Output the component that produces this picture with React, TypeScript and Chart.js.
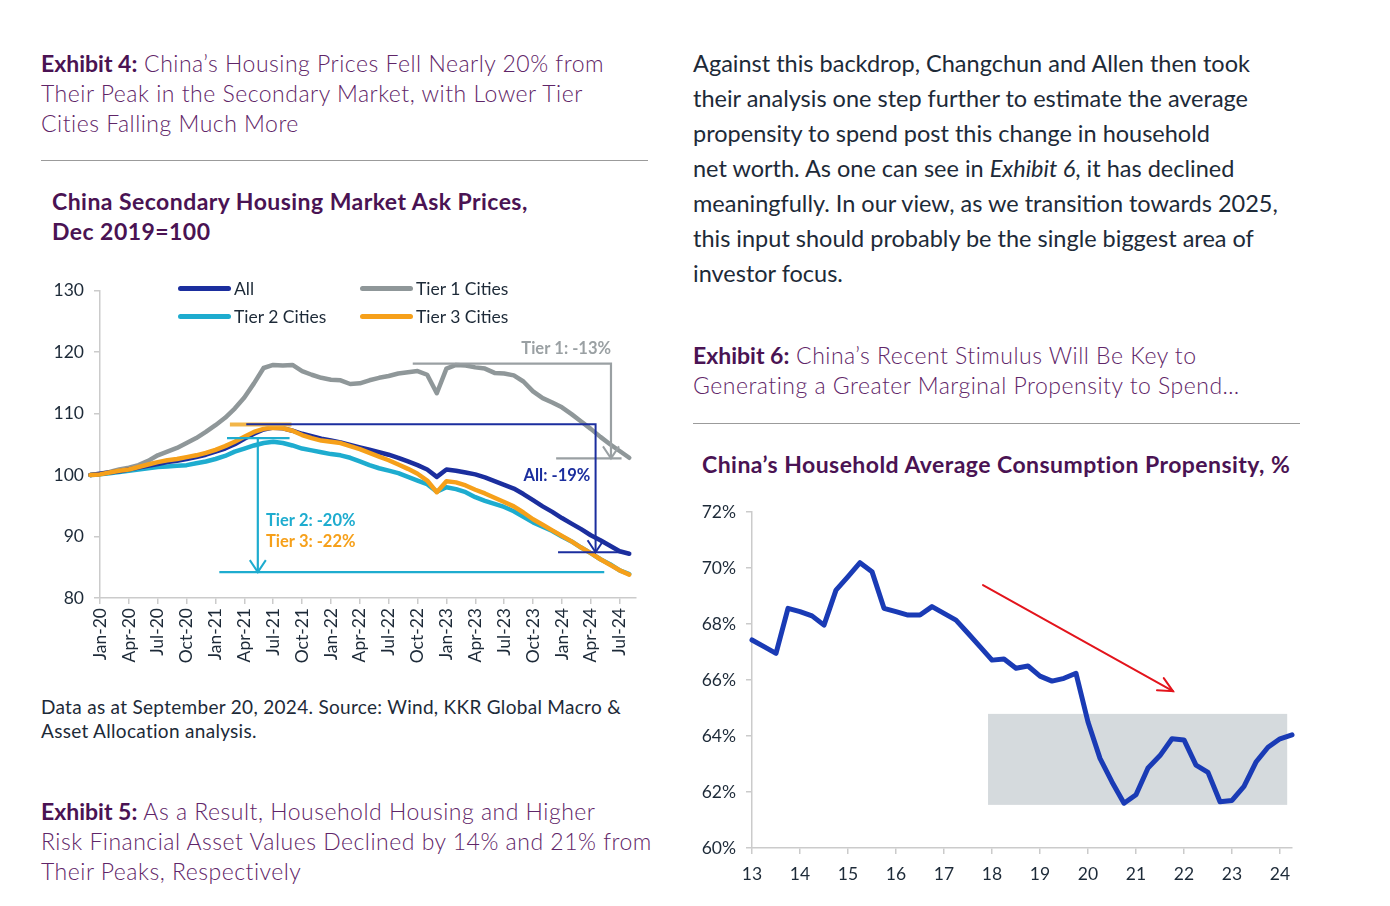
import React, { useEffect, useRef } from "react";
import { Chart, registerables } from "chart.js";

Chart.register(...registerables);

const FONT = "Lato, 'Open Sans', sans-serif";
const TEXT_DARK = "#1d2a38";
const PURPLE = "#5f2568";
const PURPLE_DARK = "#4a1353";

// ---------- Exhibit 4 data (monthly, Dec-19 .. Aug-24), Dec 2019 = 100 ----------
const MONTHS = [
  "Dec-19",
  "Jan-20", "Feb-20", "Mar-20", "Apr-20", "May-20", "Jun-20", "Jul-20", "Aug-20", "Sep-20", "Oct-20", "Nov-20", "Dec-20",
  "Jan-21", "Feb-21", "Mar-21", "Apr-21", "May-21", "Jun-21", "Jul-21", "Aug-21", "Sep-21", "Oct-21", "Nov-21", "Dec-21",
  "Jan-22", "Feb-22", "Mar-22", "Apr-22", "May-22", "Jun-22", "Jul-22", "Aug-22", "Sep-22", "Oct-22", "Nov-22", "Dec-22",
  "Jan-23", "Feb-23", "Mar-23", "Apr-23", "May-23", "Jun-23", "Jul-23", "Aug-23", "Sep-23", "Oct-23", "Nov-23", "Dec-23",
  "Jan-24", "Feb-24", "Mar-24", "Apr-24", "May-24", "Jun-24", "Jul-24", "Aug-24",
];

const X_TICK_LABELS = [
  "Jan-20", "Apr-20", "Jul-20", "Oct-20", "Jan-21", "Apr-21", "Jul-21", "Oct-21", "Jan-22", "Apr-22",
  "Jul-22", "Oct-22", "Jan-23", "Apr-23", "Jul-23", "Oct-23", "Jan-24", "Apr-24", "Jul-24",
];

const ALL = [
  100.0,
  100.2, 100.4, 100.6, 100.9, 101.2, 101.5, 101.8, 102.1, 102.3, 102.6, 102.9, 103.3,
  103.8, 104.3, 105.0, 105.9, 106.7, 107.4, 107.7, 107.6, 107.2, 106.7, 106.3, 105.9,
  105.6, 105.3, 104.9, 104.5, 104.1, 103.7, 103.3, 102.8, 102.2, 101.6, 100.9, 99.7,
  100.9, 100.7, 100.4, 100.1, 99.6, 99.0, 98.4, 97.8, 96.9, 95.9, 94.9, 94.0,
  93.0, 92.1, 91.2, 90.2, 89.4, 88.5, 87.6, 87.2,
];

const TIER1 = [
  100.0,
  100.2, 100.5, 100.9, 101.2, 101.6, 102.3, 103.2, 103.8, 104.4, 105.2, 106.0, 107.0,
  108.1, 109.3, 110.8, 112.6, 114.9, 117.4, 117.9, 117.8, 117.9, 116.9, 116.3, 115.8,
  115.5, 115.4, 114.8, 114.9, 115.4, 115.8, 116.1, 116.5, 116.7, 116.9, 116.3, 113.3,
  117.3, 117.9, 117.8, 117.5, 117.3, 116.6, 116.5, 116.2, 115.2, 113.6, 112.5, 111.8,
  111.0, 109.9, 108.7, 107.5, 106.2, 105.0, 103.9, 102.8,
];

const TIER2 = [
  100.0,
  100.1, 100.3, 100.5, 100.7, 100.9, 101.1, 101.3, 101.4, 101.5, 101.6, 101.9, 102.2,
  102.6, 103.1, 103.8, 104.3, 104.8, 105.2, 105.4, 105.2, 104.8, 104.3, 104.0, 103.7,
  103.4, 103.2, 102.8, 102.2, 101.6, 101.1, 100.7, 100.3, 99.7, 99.1, 98.5, 97.3,
  98.0, 97.7, 97.2, 96.4, 95.8, 95.3, 94.8, 94.1, 93.2, 92.3, 91.6, 90.9,
  90.0, 89.2, 88.2, 87.3, 86.3, 85.5, 84.5, 83.9,
];

const TIER3 = [
  100.0,
  100.1, 100.4, 100.7, 100.9, 101.3, 101.7, 102.1, 102.4, 102.6, 102.9, 103.2, 103.6,
  104.1, 104.7, 105.4, 106.2, 107.0, 107.5, 107.7, 107.6, 107.2, 106.5, 106.0, 105.6,
  105.4, 105.2, 104.7, 104.2, 103.6, 103.0, 102.4, 101.7, 101.0, 100.2, 99.1, 97.2,
  99.0, 98.8, 98.3, 97.6, 97.0, 96.3, 95.6, 94.9, 93.9, 92.8, 91.9, 91.0,
  90.1, 89.2, 88.2, 87.3, 86.3, 85.4, 84.5, 83.8,
];

// Peak-to-trough annotation levels (data units: x = months since Jan-20, y = index)
const T1_PEAK = 118.1;
const T1_LOW = 102.7;
const T1_PEAK_SPAN = [32.5, 53.1];
const T1_LOW_SPAN = [47.4, 54.2];
const ALL_PEAK = 108.27;
const ALL_LOW = 87.45;
const ALL_PEAK_SPAN = [15.2, 51.5];
const ALL_LOW_SPAN = [47.6, 54.2];
const T2_PEAK = 106.0;
const T2_PEAK_SPAN = [13.2, 19.7];
const T2_ARROW_X = 16.4;
const T23_LOW = 84.2;
const T23_LOW_SPAN = [12.4, 52.4];
const T3_PEAK = 108.2;
const T3_PEAK_SPAN = [13.5, 19.9];
const T1_LABEL = { text: "Tier 1: -13%", x: 53.1, y: 120.5 };
const ALL_LABEL = { text: "All: -19%", x: 50.95, y: 99.95 };
const T2_LABEL = { text: "Tier 2: -20%", x: 17.24, y: 92.6 };
const T3_LABEL = { text: "Tier 3: -22%", x: 17.24, y: 89.2 };

// ---------- Exhibit 6 data (quarterly, 2013Q1 .. 2024Q2), % ----------
const QUARTERS = [
  "13Q1", "13Q2", "13Q3", "13Q4", "14Q1", "14Q2", "14Q3", "14Q4", "15Q1", "15Q2", "15Q3", "15Q4",
  "16Q1", "16Q2", "16Q3", "16Q4", "17Q1", "17Q2", "17Q3", "17Q4", "18Q1", "18Q2", "18Q3", "18Q4",
  "19Q1", "19Q2", "19Q3", "19Q4", "20Q1", "20Q2", "20Q3", "20Q4", "21Q1", "21Q2", "21Q3", "21Q4",
  "22Q1", "22Q2", "22Q3", "22Q4", "23Q1", "23Q2", "23Q3", "23Q4", "24Q1", "24Q2",
];
const YEAR_LABELS = ["13", "14", "15", "16", "17", "18", "19", "20", "21", "22", "23", "24"];
const PROPENSITY = [
  67.43, 67.19, 66.95, 68.56, 68.44, 68.29, 67.96, 69.21, 69.69, 70.19, 69.87, 68.56,
  68.44, 68.32, 68.32, 68.62, 68.38, 68.14, 67.67, 67.19, 66.71, 66.75, 66.42, 66.5,
  66.14, 65.96, 66.06, 66.24, 64.5, 63.2, 62.36, 61.6, 61.9, 62.86, 63.3, 63.9,
  63.86, 62.96, 62.7, 61.65, 61.7, 62.2, 63.07, 63.6, 63.9, 64.04,
];
const BAND = { x0: 19.67, x1: 44.6, y0: 61.54, y1: 64.79 };
const TREND = { x0: 19.25, y0: 69.39, x1: 35.08, y1: 65.6 };

const C_ALL = "#1b2e9e";
const C_T1 = "#8f9799";
const C_T2 = "#1eaccf";
const C_T3 = "#f6a01a";
const C_AXIS = "#cbcbcb";

function seg(ctx: CanvasRenderingContext2D, pts: number[][], color: string, width: number) {
  ctx.beginPath();
  ctx.strokeStyle = color;
  ctx.lineWidth = width;
  pts.forEach((p, i) => (i === 0 ? ctx.moveTo(p[0], p[1]) : ctx.lineTo(p[0], p[1])));
  ctx.stroke();
}

function arrowDown(ctx: CanvasRenderingContext2D, x: number, y: number, color: string, width: number) {
  seg(ctx, [[x - 8, y - 12], [x, y], [x + 8, y - 12]], color, width);
}

const annPlugin = {
  id: "exhibit4Annotations",
  afterDatasetsDraw(chart: any) {
    const { ctx, scales } = chart;
    const X = (v: number) => scales.x.getPixelForValue(v);
    const Y = (v: number) => scales.y.getPixelForValue(v);
    ctx.save();
    ctx.lineCap = "butt";
    // Tier 3 peak (under the All peak line)
    seg(ctx, [[X(T3_PEAK_SPAN[0]), Y(T3_PEAK)], [X(T3_PEAK_SPAN[1]), Y(T3_PEAK)]], "#f2b548", 4);
    // Tier 1
    seg(ctx, [[X(T1_PEAK_SPAN[0]), Y(T1_PEAK)], [X(T1_PEAK_SPAN[1]), Y(T1_PEAK)], [X(T1_PEAK_SPAN[1]), Y(T1_LOW)]], "#9aa0a3", 2.2);
    arrowDown(ctx, X(T1_PEAK_SPAN[1]), Y(T1_LOW), "#9aa0a3", 2);
    seg(ctx, [[X(T1_LOW_SPAN[0]), Y(T1_LOW)], [X(T1_LOW_SPAN[1]), Y(T1_LOW)]], "#9aa0a3", 2.2);
    // All
    seg(ctx, [[X(ALL_PEAK_SPAN[0]), Y(ALL_PEAK)], [X(ALL_PEAK_SPAN[1]), Y(ALL_PEAK)], [X(ALL_PEAK_SPAN[1]), Y(ALL_LOW)]], C_ALL, 2);
    arrowDown(ctx, X(ALL_PEAK_SPAN[1]), Y(ALL_LOW), C_ALL, 2);
    seg(ctx, [[X(ALL_LOW_SPAN[0]), Y(ALL_LOW)], [X(ALL_LOW_SPAN[1]), Y(ALL_LOW)]], C_ALL, 2);
    // Tier 2 / Tier 3
    seg(ctx, [[X(T2_PEAK_SPAN[0]), Y(T2_PEAK)], [X(T2_PEAK_SPAN[1]), Y(T2_PEAK)]], C_T2, 2.2);
    seg(ctx, [[X(T2_ARROW_X), Y(T2_PEAK)], [X(T2_ARROW_X), Y(T23_LOW)]], C_T2, 2.2);
    arrowDown(ctx, X(T2_ARROW_X), Y(T23_LOW), C_T2, 2);
    seg(ctx, [[X(T23_LOW_SPAN[0]), Y(T23_LOW)], [X(T23_LOW_SPAN[1]), Y(T23_LOW)]], C_T2, 2.2);
    // labels
    ctx.font = `bold 16.5px ${FONT}`;
    ctx.textBaseline = "middle";
    (ctx as any).letterSpacing = "0px";
    ctx.textAlign = "right";
    ctx.fillStyle = "#9aa0a3";
    ctx.fillText(T1_LABEL.text, X(T1_LABEL.x), Y(T1_LABEL.y));
    ctx.fillStyle = C_ALL;
    ctx.fillText(ALL_LABEL.text, X(ALL_LABEL.x), Y(ALL_LABEL.y));
    ctx.textAlign = "left";
    ctx.fillStyle = C_T2;
    ctx.fillText(T2_LABEL.text, X(T2_LABEL.x), Y(T2_LABEL.y));
    ctx.fillStyle = C_T3;
    ctx.fillText(T3_LABEL.text, X(T3_LABEL.x), Y(T3_LABEL.y));
    ctx.restore();
  },
};

const bandPlugin = {
  id: "exhibit6Band",
  beforeDatasetsDraw(chart: any) {
    const { ctx, scales } = chart;
    const X = (v: number) => scales.x.getPixelForValue(v);
    const Y = (v: number) => scales.y.getPixelForValue(v);
    ctx.save();
    ctx.fillStyle = "#d5dadd";
    ctx.fillRect(X(BAND.x0), Y(BAND.y1), X(BAND.x1) - X(BAND.x0), Y(BAND.y0) - Y(BAND.y1));
    ctx.restore();
  },
  afterDatasetsDraw(chart: any) {
    const { ctx, scales } = chart;
    const X = (v: number) => scales.x.getPixelForValue(v);
    const Y = (v: number) => scales.y.getPixelForValue(v);
    const x0 = X(TREND.x0), y0 = Y(TREND.y0), x1 = X(TREND.x1), y1 = Y(TREND.y1);
    const ang = Math.atan2(y1 - y0, x1 - x0);
    const L = 16, spread = Math.PI / 7;
    ctx.save();
    ctx.lineCap = "round";
    seg(ctx, [[x0, y0], [x1, y1]], "#e3141c", 2);
    seg(
      ctx,
      [
        [x1 - L * Math.cos(ang - spread), y1 - L * Math.sin(ang - spread)],
        [x1, y1],
        [x1 - L * Math.cos(ang + spread), y1 - L * Math.sin(ang + spread)],
      ],
      "#e3141c",
      2
    );
    ctx.restore();
  },
};

function HousingChart() {
  const ref = useRef<HTMLCanvasElement>(null);
  useEffect(() => {
    const mk = (vals: number[]) => vals.map((v, i) => ({ x: i - 1, y: v }));
    const ds = (label: string, vals: number[], color: string, order: number) => ({
      label,
      data: mk(vals),
      borderColor: color,
      backgroundColor: color,
      borderWidth: 4.5,
      pointRadius: 0,
      tension: 0,
      clip: false as any,
      order,
      borderJoinStyle: "round" as const,
      borderCapStyle: "round" as const,
    });
    const chart = new Chart(ref.current!, {
      type: "line",
      data: {
        labels: MONTHS,
        datasets: [
          ds("All", ALL, C_ALL, 1),
          ds("Tier 1 Cities", TIER1, C_T1, 3),
          ds("Tier 2 Cities", TIER2, C_T2, 2),
          ds("Tier 3 Cities", TIER3, C_T3, 0),
        ],
      },
      options: {
        animation: false,
        responsive: false,
        devicePixelRatio: 1,
        layout: { padding: { top: 18, right: 14, bottom: 6, left: 0 } },
        plugins: { legend: { display: false }, tooltip: { enabled: false } },
        scales: {
          x: {
            type: "linear",
            min: 0,
            max: 55.7,
            afterFit: (s: any) => { s.height = 76; },
            afterBuildTicks: (s: any) => { s.ticks = X_TICK_LABELS.map((_, i) => ({ value: i * 3 })); },
            grid: { drawOnChartArea: false, drawTicks: true, tickLength: 6, color: C_AXIS, lineWidth: 1.5 },
            border: { color: C_AXIS, width: 1.5 },
            ticks: {
              autoSkip: false,
              maxRotation: 90,
              minRotation: 90,
              padding: 4,
              color: TEXT_DARK,
              font: { family: FONT, size: 17.5 },
              callback: (v: any) => X_TICK_LABELS[Math.round(Number(v) / 3)] ?? "",
            },
          },
          y: {
            min: 80,
            max: 130,
            afterFit: (s: any) => { s.width = 60; },
            grid: { drawOnChartArea: false, drawTicks: true, tickLength: 6, color: C_AXIS, lineWidth: 1.5 },
            border: { color: C_AXIS, width: 1.5 },
            ticks: { stepSize: 10, padding: 10, color: TEXT_DARK, font: { family: FONT, size: 17.5 } },
          },
        },
      },
      plugins: [annPlugin],
    } as any);
    return () => chart.destroy();
  }, []);
  return <canvas ref={ref} width={610} height={410} style={{ position: "absolute", left: 40, top: 270, width: 610, height: 410 }} />;
}

function PropensityChart() {
  const ref = useRef<HTMLCanvasElement>(null);
  useEffect(() => {
    const chart = new Chart(ref.current!, {
      type: "line",
      data: {
        labels: QUARTERS,
        datasets: [
          {
            label: "Average consumption propensity",
            data: PROPENSITY.map((v, i) => ({ x: i, y: v })),
            borderColor: "#1a3bb5",
            borderWidth: 5,
            pointRadius: 0,
            tension: 0,
            clip: false as any,
            borderJoinStyle: "round",
            borderCapStyle: "round",
          },
        ],
      },
      options: {
        animation: false,
        responsive: false,
        devicePixelRatio: 1,
        layout: { padding: { top: 22, right: 18, bottom: 12, left: 0 } },
        plugins: { legend: { display: false }, tooltip: { enabled: false } },
        scales: {
          x: {
            type: "linear",
            min: 0,
            max: 45,
            afterFit: (s: any) => { s.height = 40; },
            afterBuildTicks: (s: any) => { s.ticks = YEAR_LABELS.map((_, i) => ({ value: i * 4 })); },
            grid: { drawOnChartArea: false, drawTicks: true, tickLength: 6, color: C_AXIS, lineWidth: 1.5 },
            border: { color: C_AXIS, width: 1.5 },
            ticks: {
              autoSkip: false,
              maxRotation: 0,
              padding: 10,
              color: TEXT_DARK,
              font: { family: FONT, size: 17.5 },
              callback: (v: any) => YEAR_LABELS[Math.round(Number(v) / 4)] ?? "",
            },
          },
          y: {
            min: 60,
            max: 72,
            afterFit: (s: any) => { s.width = 62; },
            grid: { drawOnChartArea: false, drawTicks: true, tickLength: 6, color: C_AXIS, lineWidth: 1.5 },
            border: { color: C_AXIS, width: 1.5 },
            ticks: {
              stepSize: 2,
              padding: 10,
              color: TEXT_DARK,
              font: { family: FONT, size: 17.5 },
              callback: (v: any) => `${v}%`,
            },
          },
        },
      },
      plugins: [bandPlugin],
    } as any);
    return () => chart.destroy();
  }, []);
  return <canvas ref={ref} width={620} height={410} style={{ position: "absolute", left: 690, top: 490, width: 620, height: 410 }} />;
}

const LEGEND = [
  { label: "All", color: C_ALL, left: 178, top: 288 },
  { label: "Tier 1 Cities", color: C_T1, left: 360, top: 288 },
  { label: "Tier 2 Cities", color: C_T2, left: 178, top: 316 },
  { label: "Tier 3 Cities", color: C_T3, left: 360, top: 316 },
];

const abs = (left: number, top: number, extra: React.CSSProperties = {}): React.CSSProperties => ({
  position: "absolute",
  left,
  top,
  margin: 0,
  whiteSpace: "nowrap",
  ...extra,
});

export default function App() {
  const heading: React.CSSProperties = { fontFamily: FONT, fontSize: 23, lineHeight: "30px", color: PURPLE, fontWeight: 300, letterSpacing: "0.5px" };
  const chartTitle: React.CSSProperties = { fontFamily: FONT, fontSize: 23, lineHeight: "30px", color: PURPLE_DARK, fontWeight: 700, letterSpacing: "0.45px" };
  return (
    <div style={{ position: "absolute", left: 0, top: 0, width: 1390, height: 906, overflow: "hidden", background: "#fff" }}>
      {/* Left column */}
      <div style={abs(41, 48, heading)}>
        <b style={{ fontWeight: 700, color: PURPLE_DARK, letterSpacing: "0px" }}>Exhibit 4:</b> China’s Housing Prices Fell Nearly 20% from
        <br />Their Peak in the Secondary Market, with Lower Tier
        <br />Cities Falling Much More
      </div>
      <div style={abs(41, 160, { width: 607, borderTop: "1.5px solid #9b9b9b" })} />
      <div style={abs(52, 186, chartTitle)}>
        China Secondary Housing Market Ask Prices,
        <br />Dec 2019=100
      </div>

      <HousingChart />

      {LEGEND.map((it) => (
        <div key={it.label} style={abs(it.left, it.top - 12, { height: 24, display: "flex", alignItems: "center", fontFamily: FONT, fontSize: 17.5, color: TEXT_DARK })}>
          <span style={{ display: "inline-block", width: 53, height: 5, borderRadius: 3, background: it.color, marginRight: 3 }} />
          <span>{it.label}</span>
        </div>
      ))}

      <div style={abs(41, 695, { fontFamily: FONT, fontSize: 19, lineHeight: "24px", color: TEXT_DARK, letterSpacing: "0.3px" })}>
        Data as at September 20, 2024. Source: Wind, KKR Global Macro &amp;
        <br />Asset Allocation analysis.
      </div>
      <div style={abs(41, 796, heading)}>
        <b style={{ fontWeight: 700, color: PURPLE_DARK, letterSpacing: "0px" }}>Exhibit 5:</b> As a Result, Household Housing and Higher
        <br />Risk Financial Asset Values Declined by 14% and 21% from
        <br />Their Peaks, Respectively
      </div>

      {/* Right column */}
      <div style={abs(693, 45.5, { fontFamily: FONT, fontSize: 23.5, lineHeight: "35px", color: TEXT_DARK })}>
        Against this backdrop, Changchun and Allen then took
        <br />their analysis one step further to estimate the average
        <br />propensity to spend post this change in household
        <br />net worth. As one can see in <i>Exhibit 6</i>, it has declined
        <br />meaningfully. In our view, as we transition towards 2025,
        <br />this input should probably be the single biggest area of
        <br />investor focus.
      </div>
      <div style={abs(693, 340, heading)}>
        <b style={{ fontWeight: 700, color: PURPLE_DARK, letterSpacing: "0px" }}>Exhibit 6:</b> China’s Recent Stimulus Will Be Key to
        <br />Generating a Greater Marginal Propensity to Spend…
      </div>
      <div style={abs(693, 423, { width: 607, borderTop: "1.5px solid #9b9b9b" })} />
      <div style={abs(702, 449, chartTitle)}>China’s Household Average Consumption Propensity, %</div>

      <PropensityChart />
    </div>
  );
}
